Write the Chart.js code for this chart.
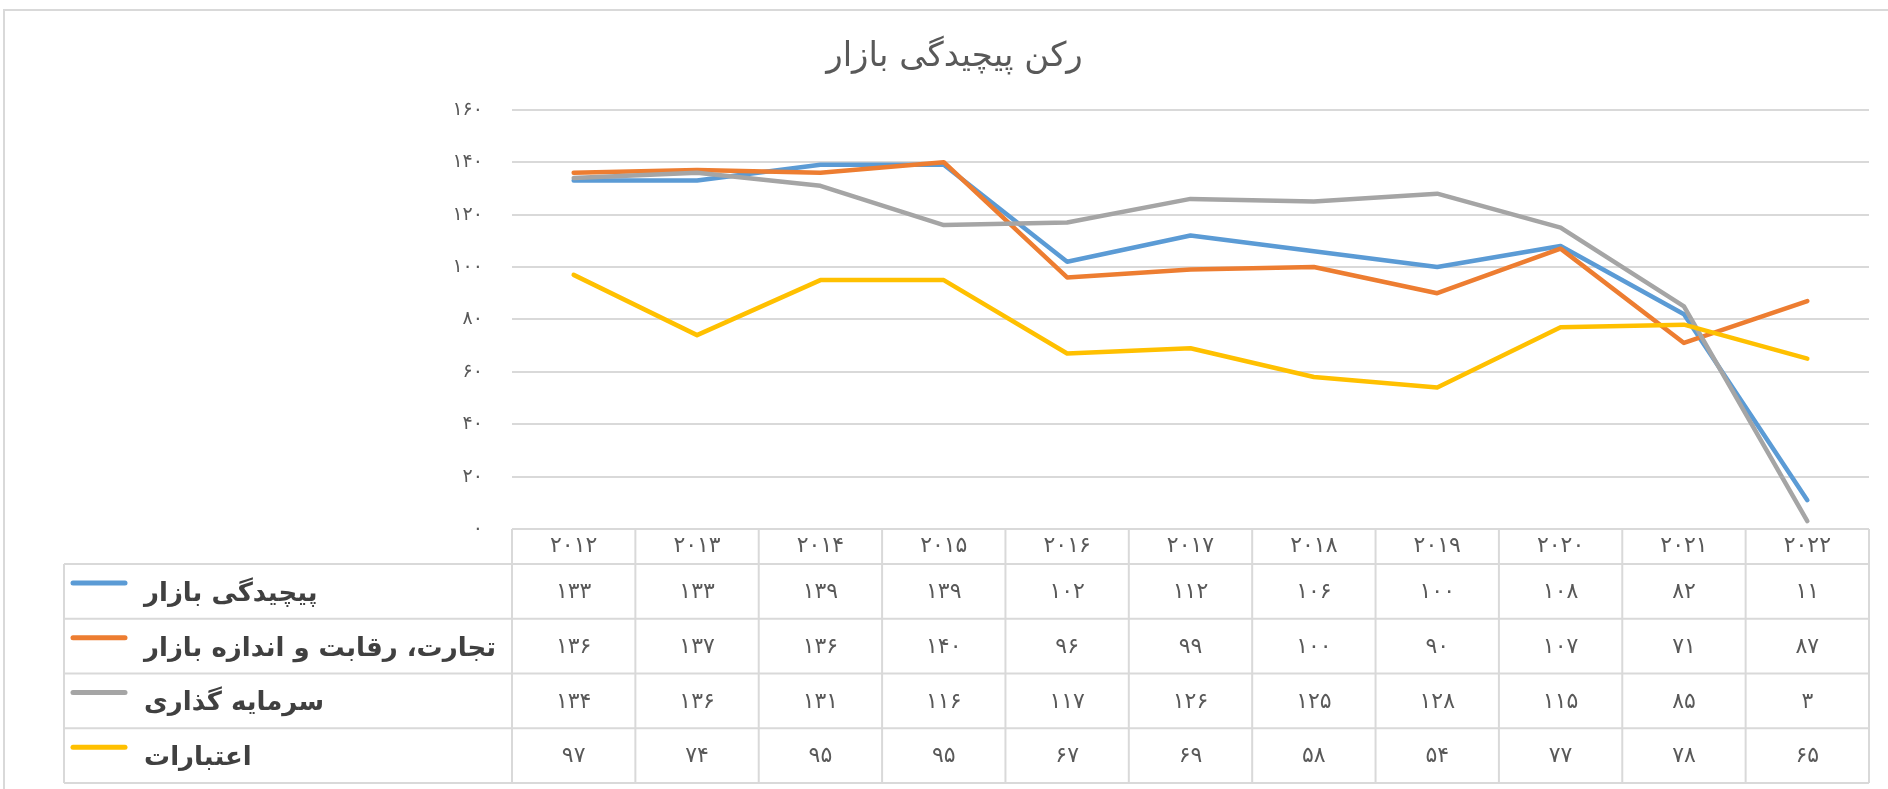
<!DOCTYPE html>
<html>
<head>
<meta charset="utf-8">
<script src="https://cdn.jsdelivr.net/npm/chart.js@4/dist/chart.umd.min.js"></script>
<style>
  html, body { margin: 0; padding: 0; background: #ffffff; }
  #wrap { width: 1888px; height: 789px; }
</style>
</head>
<body>
<div id="wrap"><canvas id="c" width="1888" height="789"></canvas></div>
<script>
// ---- data ----
const chartTitle = 'رکن پیچیدگی بازار';
const categories = ['2012','2013','2014','2015','2016','2017','2018','2019','2020','2021','2022'];
const seriesNames = ['پیچیدگی بازار', 'تجارت، رقابت و اندازه بازار', 'سرمایه گذاری', 'اعتبارات'];
const marketComplexity = [133,133,139,139,102,112,106,100,108,82,11];
const tradeCompetition = [136,137,136,140,96,99,100,90,107,71,87];
const investment = [134,136,131,116,117,126,125,128,115,85,3];
const credit = [97,74,95,95,67,69,58,54,77,78,65];
const yTicks = [0,20,40,60,80,100,120,140,160];
const seriesColors = ['#5B9BD5', '#ED7D31', '#A5A5A5', '#FFC000'];

const FA = '۰۱۲۳۴۵۶۷۸۹';
const toFa = v => String(v).replace(/\d/g, d => FA[d]);
const seriesData = [marketComplexity, tradeCompetition, investment, credit];

const FONT = "'DejaVu Sans', sans-serif";

const tablePlugin = {
  id: 'dataTable',
  beforeDraw(chart) {
    const ctx = chart.ctx;
    ctx.save();
    ctx.strokeStyle = '#D9D9D9';
    ctx.lineWidth = 2;
    ctx.strokeRect(4, 10, 1900, 800);
    ctx.restore();
  },
  afterDraw(chart) {
    const ctx = chart.ctx;
    const area = chart.chartArea;
    const xs = chart.scales.x;
    const n = categories.length;
    const colW = (area.right - area.left) / n;
    const headTop = area.bottom;
    const headBottom = xs.bottom;
    const tableLeft = 64;
    const rowH = 54.75;
    const tableBottom = headBottom + rowH * seriesNames.length;
    ctx.save();
    ctx.strokeStyle = '#D9D9D9';
    ctx.lineWidth = 2;
    ctx.beginPath();
    ctx.moveTo(area.left, headTop); ctx.lineTo(area.right, headTop);
    for (let i = 0; i <= seriesNames.length; i++) {
      const y = headBottom + i * rowH;
      ctx.moveTo(tableLeft, y); ctx.lineTo(area.right, y);
    }
    for (let j = 0; j <= n; j++) {
      const x = area.left + j * colW;
      ctx.moveTo(x, headTop); ctx.lineTo(x, tableBottom);
    }
    ctx.moveTo(tableLeft, headBottom); ctx.lineTo(tableLeft, tableBottom);
    ctx.stroke();

    for (let i = 0; i < seriesNames.length; i++) {
      const rowTop = headBottom + i * rowH;
      ctx.strokeStyle = seriesColors[i];
      ctx.lineWidth = 5;
      ctx.lineCap = 'round';
      ctx.beginPath();
      ctx.moveTo(73, rowTop + 19);
      ctx.lineTo(125, rowTop + 19);
      ctx.stroke();
      ctx.fillStyle = '#404040';
      ctx.font = "bold 26px " + FONT;
      ctx.textAlign = 'left';
      ctx.textBaseline = 'middle';
      ctx.fillText(seriesNames[i], 144, rowTop + 30);
      ctx.fillStyle = '#595959';
      ctx.font = "22px " + FONT;
      ctx.textAlign = 'center';
      for (let j = 0; j < n; j++) {
        ctx.fillText(toFa(seriesData[i][j]), xs.getPixelForValue(j), rowTop + rowH / 2 + 1);
      }
    }
    ctx.restore();
  }
};

const orders = [4, 3, 2, 1];
new Chart(document.getElementById('c'), {
  type: 'line',
  data: {
    labels: categories,
    datasets: seriesNames.map((name, i) => ({
      label: name,
      data: seriesData[i],
      borderColor: seriesColors[i],
      backgroundColor: seriesColors[i],
      borderWidth: 4.5,
      pointRadius: 0,
      tension: 0,
      borderJoinStyle: 'round',
      borderCapStyle: 'round',
      order: orders[i]
    }))
  },
  options: {
    responsive: false,
    animation: false,
    font: { family: FONT },
    layout: { padding: { top: 10, left: 40, right: 19, bottom: 225 } },
    plugins: {
      legend: { display: false },
      tooltip: { enabled: false },
      title: {
        display: true,
        text: chartTitle,
        color: '#595959',
        font: { family: FONT, size: 34, weight: 'normal', lineHeight: 1.2 },
        padding: { top: 27, bottom: 32 }
      }
    },
    scales: {
      x: {
        type: 'category',
        offset: true,
        grid: { display: false, drawTicks: false },
        border: { display: false },
        ticks: {
          autoSkip: false, maxRotation: 0, padding: 4,
          color: '#595959',
          font: { family: FONT, size: 22 },
          callback: function(v) { return toFa(this.getLabelForValue(v)); }
        },
        afterFit(scale) { scale.height = 35; }
      },
      y: {
        min: yTicks[0],
        max: yTicks[yTicks.length - 1],
        afterBuildTicks(scale) { scale.ticks = yTicks.map(v => ({ value: v })); },
        grid: { color: '#D9D9D9', lineWidth: 2, drawTicks: false },
        border: { display: false },
        ticks: {
          padding: 29,
          color: '#595959',
          font: { family: FONT, size: 19 },
          callback: v => toFa(v)
        },
        afterFit(scale) { scale.width = 472; }
      }
    }
  },
  plugins: [tablePlugin]
});
</script>
</body>
</html>
